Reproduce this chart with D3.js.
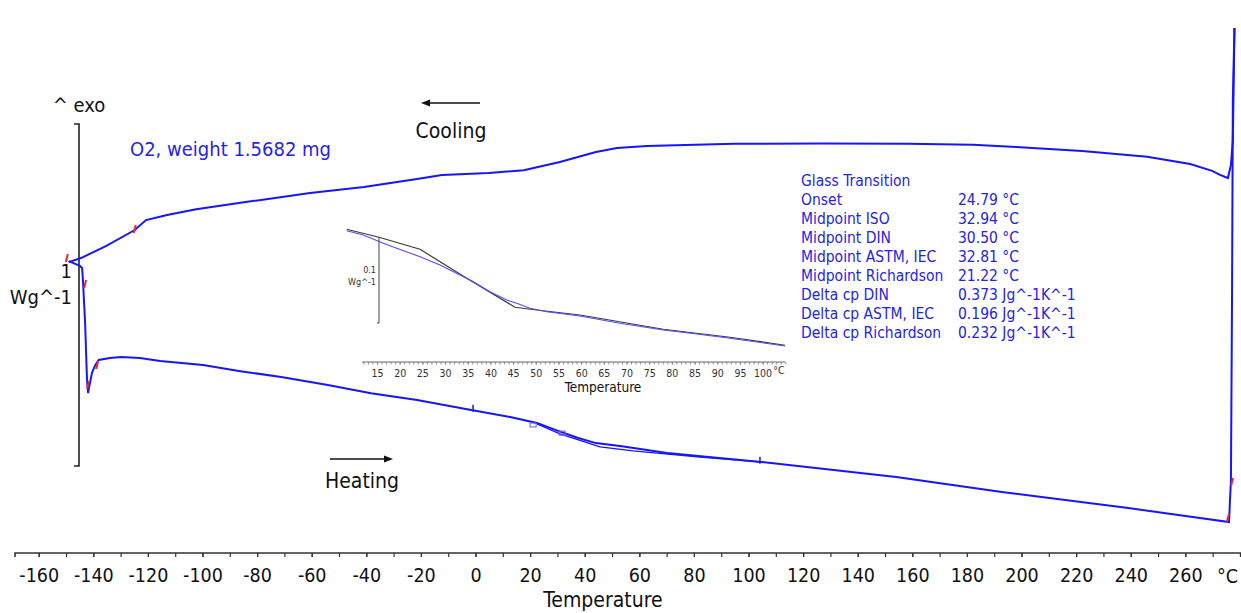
<!DOCTYPE html>
<html>
<head>
<meta charset="utf-8">
<script src="https://cdn.jsdelivr.net/npm/d3@7"></script>
<style>
  body { margin: 0; background: #fff; }
</style>
</head>
<body>
<div id="chart"></div>
<script>
// DSC run, O2, 1.5682 mg : heat flow (W/g) vs temperature (°C)
var coolingT = [278.0, 277.4, 276.7, 275.6, 272.7, 269.8, 261.8, 246.0, 222.2, 198.0, 182.2, 158.4, 126.5, 94.7, 62.8, 51.8, 44.1, 30.9, 17.7, 4.9, -12.3, -21.4, -40.9, -60.6, -86.7, -102.3, -113.0, -120.7, -124.8, -135.4, -144.5, -149.0];
var coolingW = [1.281, 0.953, 0.880, 0.842, 0.851, 0.863, 0.883, 0.904, 0.921, 0.933, 0.939, 0.942, 0.943, 0.942, 0.936, 0.930, 0.918, 0.889, 0.865, 0.857, 0.851, 0.839, 0.816, 0.798, 0.769, 0.751, 0.734, 0.719, 0.690, 0.643, 0.608, 0.596];

var heatingT = [-149.0, -144.9, -144.1, -143.8, -143.0, -142.3, -141.9, -141.6, -140.5, -139.3, -138.0, -133.9, -129.8, -122.9, -115.5, -99.8, -86.7, -71.2, -54.1, -38.3, -21.4, -1.6, 12.7, 22.5, 29.5, 37.6, 44.1, 53.6, 70.2, 104.6, 154.1, 192.8, 239.1, 276.0, 276.7, 277.1, 277.4, 278.0];
var heatingW = [0.599, 0.585, 0.579, 0.544, 0.418, 0.251, 0.213, 0.228, 0.272, 0.295, 0.310, 0.316, 0.319, 0.316, 0.307, 0.295, 0.278, 0.260, 0.237, 0.213, 0.193, 0.164, 0.143, 0.126, 0.105, 0.082, 0.067, 0.058, 0.038, 0.012, -0.032, -0.076, -0.123, -0.164, -0.041, 0.485, 1.070, 1.281];

// evaluation line of the glass transition
var tgLineT = [22.5, 30.9, 45.6, 57.7, 82.2, 104.2];
var tgLineW = [0.123, 0.094, 0.056, 0.044, 0.026, 0.012];

// red limit marks
var redT = [-149.7, -124.8, -143.0, -141.9, -138.6, 275.6, 277.1];
var redW = [0.608, 0.693, 0.532, 0.237, 0.295, -0.152, -0.047];

// small blue marks / boxes on the heating curve
var blueMarkT = [-0.9, 104.2];
var blueMarkW = [0.170, 0.018];
var boxT = [21.1, 31.7];
var boxW = [0.120, 0.096];

// inset : zoom of the glass transition
var insetT = [8.32, 11.98, 16.39, 19.34, 24.48, 28.89, 33.30, 36.23, 39.91, 43.59, 44.70, 45.80, 48.73, 52.41, 59.75, 68.57, 78.12, 85.48, 92.82, 104.95];
var insetW = [0.1073, 0.1023, 0.0927, 0.0869, 0.0771, 0.0674, 0.0558, 0.0480, 0.0364, 0.0267, 0.0248, 0.0229, 0.0171, 0.0131, 0.0081, -0.0003, -0.0081, -0.0128, -0.0178, -0.0267];
var tangentT = [8.32, 15.44, 24.48, 34.78, 45.42, 50.21, 59.75, 78.12, 92.82, 104.95];
var tangentW = [0.1090, 0.0997, 0.0857, 0.0520, 0.0183, 0.0151, 0.0093, -0.0073, -0.0166, -0.0259];

var xTickLabels = [-160, -140, -120, -100, -80, -60, -40, -20, 0, 20, 40, 60, 80, 100, 120, 140, 160, 180, 200, 220, 240, 260];
var insetTickLabels = [15, 20, 25, 30, 35, 40, 45, 50, 55, 60, 65, 70, 75, 80, 85, 90, 95, 100];

var glassNames = ["Onset", "Midpoint ISO", "Midpoint DIN", "Midpoint ASTM, IEC", "Midpoint Richardson", "Delta cp DIN", "Delta cp ASTM, IEC", "Delta cp Richardson"];
var glassValues = ["24.79 °C", "32.94 °C", "30.50 °C", "32.81 °C", "21.22 °C", "0.373 Jg^-1K^-1", "0.196 Jg^-1K^-1", "0.232 Jg^-1K^-1"];

var FONT = "Tahoma, 'DejaVu Sans Condensed', 'Liberation Sans', sans-serif";
var BLUE = "#1515ff";
var TXTBLUE = "#2424e6";

var svg = d3.select("#chart").append("svg")
  .attr("width", 1241)
  .attr("height", 613)
  .style("font-family", FONT);

var x = d3.scaleLinear().domain([-170, 282]).range([11.4, 1245.4]);
var y = d3.scaleLinear().domain([0, 1]).range([466, 124]);

var zip = function(a, b) { return a.map(function(d, i) { return [d, b[i]]; }); };
var plain = function(d) { return String(d); };   // keep "-160", not the unicode minus

var line = d3.line()
  .x(function(d) { return x(d[0]); })
  .y(function(d) { return y(d[1]); });

// ---- bottom axis
var axisY = 553;
svg.append("g")
  .attr("transform", "translate(0," + axisY + ")")
  .call(d3.axisBottom(x).tickValues(d3.range(-160, 290, 10)).tickSize(4).tickSizeOuter(0).tickFormat(""))
  .call(function(g) {
    g.select(".domain").attr("d", "M15,4V0H1241").attr("stroke", "#333").attr("stroke-width", 1.6);
    g.selectAll(".tick line").attr("stroke", "#333").attr("stroke-width", 1.2);
  });

svg.append("g")
  .attr("transform", "translate(0," + axisY + ")")
  .call(d3.axisBottom(x).tickValues(xTickLabels).tickSize(4).tickPadding(11).tickFormat(plain))
  .call(function(g) {
    g.select(".domain").remove();
    g.selectAll(".tick line").attr("stroke", "#333").attr("stroke-width", 1.2);
    g.selectAll(".tick text")
      .attr("font-family", FONT)
      .attr("font-size", 19.5)
      .attr("fill", "#111");
  });

svg.append("text")
  .attr("x", 1238).attr("y", 576)
  .attr("text-anchor", "end").attr("dominant-baseline", "central")
  .attr("font-size", 19.5).attr("fill", "#111")
  .text("°C");

svg.append("text")
  .attr("x", 603).attr("y", 600)
  .attr("text-anchor", "middle").attr("dominant-baseline", "central")
  .attr("font-size", 21).attr("fill", "#111")
  .text("Temperature");

// ---- scale bar 1 W/g
svg.append("path")
  .attr("d", "M74," + y(1) + "H79V" + y(0) + "H74")
  .attr("fill", "none").attr("stroke", "#222").attr("stroke-width", 1.6);

svg.append("text").attr("x", 79).attr("y", 105)
  .attr("text-anchor", "middle").attr("dominant-baseline", "central")
  .attr("font-size", 20).attr("fill", "#111").text("^ exo");
svg.append("text").attr("x", 72).attr("y", 271)
  .attr("text-anchor", "end").attr("dominant-baseline", "central")
  .attr("font-size", 20).attr("fill", "#111").text("1");
svg.append("text").attr("x", 72).attr("y", 297)
  .attr("text-anchor", "end").attr("dominant-baseline", "central")
  .attr("font-size", 20).attr("fill", "#111").text("Wg^-1");

// ---- curves
svg.append("path").datum(zip(heatingT, heatingW))
  .attr("d", line).attr("fill", "none").attr("stroke", BLUE).attr("stroke-width", 2);
svg.append("path").datum(zip(coolingT, coolingW))
  .attr("d", line).attr("fill", "none").attr("stroke", BLUE).attr("stroke-width", 2);
svg.append("path").datum(zip(tgLineT, tgLineW))
  .attr("d", line).attr("fill", "none").attr("stroke", BLUE).attr("stroke-width", 1.3);

svg.selectAll(".redmark").data(zip(redT, redW)).enter()
  .append("line").attr("class", "redmark")
  .attr("x1", function(d) { return x(d[0]) - 1; })
  .attr("x2", function(d) { return x(d[0]) + 1; })
  .attr("y1", function(d) { return y(d[1]) + 4; })
  .attr("y2", function(d) { return y(d[1]) - 4; })
  .attr("stroke", "#ff2020").attr("stroke-width", 2);

svg.selectAll(".bluemark").data(zip(blueMarkT, blueMarkW)).enter()
  .append("line").attr("class", "bluemark")
  .attr("x1", function(d) { return x(d[0]); })
  .attr("x2", function(d) { return x(d[0]); })
  .attr("y1", function(d) { return y(d[1]) - 3; })
  .attr("y2", function(d) { return y(d[1]) + 4; })
  .attr("stroke", BLUE).attr("stroke-width", 1.5);

svg.selectAll(".box").data(zip(boxT, boxW)).enter()
  .append("rect").attr("class", "box")
  .attr("x", function(d) { return x(d[0]) - 3; })
  .attr("y", function(d) { return y(d[1]) - 2; })
  .attr("width", 6).attr("height", 4)
  .attr("fill", "none").attr("stroke", "#6060ff").attr("stroke-width", 1);

// ---- labels
svg.append("text").attr("x", 130).attr("y", 149)
  .attr("dominant-baseline", "central")
  .attr("font-size", 20).attr("fill", TXTBLUE).text("O2, weight 1.5682 mg");

var arrow = function(x1, x2, yy) {
  var dir = x2 > x1 ? 1 : -1;
  svg.append("line").attr("x1", x1).attr("x2", x2 - dir * 6).attr("y1", yy).attr("y2", yy)
    .attr("stroke", "#111").attr("stroke-width", 1.5);
  svg.append("path")
    .attr("d", "M" + x2 + "," + yy + "L" + (x2 - dir * 9) + "," + (yy - 3.5) + "L" + (x2 - dir * 9) + "," + (yy + 3.5) + "Z")
    .attr("fill", "#111");
};
arrow(480, 421, 103);
svg.append("text").attr("x", 451).attr("y", 131)
  .attr("text-anchor", "middle").attr("dominant-baseline", "central")
  .attr("font-size", 21).attr("fill", "#111").text("Cooling");
arrow(330, 393, 459);
svg.append("text").attr("x", 362).attr("y", 481)
  .attr("text-anchor", "middle").attr("dominant-baseline", "central")
  .attr("font-size", 21).attr("fill", "#111").text("Heating");

// ---- glass transition table
var table = svg.append("g").attr("font-size", 15.5).attr("fill", TXTBLUE);
table.append("text").attr("x", 801).attr("y", 181).attr("dominant-baseline", "central").text("Glass Transition");
glassNames.forEach(function(name, i) {
  table.append("text").attr("x", 801).attr("y", 200 + i * 19).attr("dominant-baseline", "central").text(name);
  table.append("text").attr("x", 958).attr("y", 200 + i * 19).attr("dominant-baseline", "central").text(glassValues[i]);
});

// ---- inset
var ix = d3.scaleLinear().domain([15, 100]).range([377, 762.6]);
var iy = d3.scaleLinear().domain([0, 0.1]).range([323, 237]);
var iline = d3.line()
  .x(function(d) { return ix(d[0]); })
  .y(function(d) { return iy(d[1]); });

var inset = svg.append("g");
inset.append("g")
  .attr("transform", "translate(0,362)")
  .call(d3.axisBottom(ix).tickValues(d3.range(12, 106, 1)).tickSize(2.5).tickSizeOuter(0).tickFormat(""))
  .call(function(g) {
    g.select(".domain").attr("d", "M" + ix(11.7) + ",0H" + ix(105)).attr("stroke", "#666");
    g.selectAll(".tick line").attr("stroke", "#777").attr("stroke-width", 0.8);
  });
inset.append("g")
  .attr("transform", "translate(0,362)")
  .call(d3.axisBottom(ix).tickValues(insetTickLabels).tickSize(2.5).tickPadding(5))
  .call(function(g) {
    g.select(".domain").remove();
    g.selectAll(".tick line").attr("stroke", "#777").attr("stroke-width", 0.8);
    g.selectAll(".tick text").attr("font-family", FONT).attr("font-size", 10.5).attr("fill", "#333");
  });
inset.append("text").attr("x", 779).attr("y", 370)
  .attr("text-anchor", "middle").attr("dominant-baseline", "central")
  .attr("font-size", 10.5).attr("fill", "#333").text("°C");
inset.append("text").attr("x", 603).attr("y", 387)
  .attr("text-anchor", "middle").attr("dominant-baseline", "central")
  .attr("font-size", 13.5).attr("fill", "#111").text("Temperature");

inset.append("path")
  .attr("d", "M" + ix(15.44) + "," + iy(0.1) + "V" + iy(0) + "h-2")
  .attr("fill", "none").attr("stroke", "#444").attr("stroke-width", 1);
inset.append("text").attr("x", 376).attr("y", 270)
  .attr("text-anchor", "end").attr("dominant-baseline", "central")
  .attr("font-size", 9).attr("fill", "#333").text("0.1");
inset.append("text").attr("x", 376).attr("y", 282)
  .attr("text-anchor", "end").attr("dominant-baseline", "central")
  .attr("font-size", 9).attr("fill", "#333").text("Wg^-1");

inset.append("path").datum(zip(tangentT, tangentW))
  .attr("d", iline).attr("fill", "none").attr("stroke", "#3a3a3a").attr("stroke-width", 1.2);
inset.append("path").datum(zip(insetT, insetW))
  .attr("d", iline).attr("fill", "none").attr("stroke", "#4d4dff").attr("stroke-width", 1.1);
</script>
</body>
</html>
